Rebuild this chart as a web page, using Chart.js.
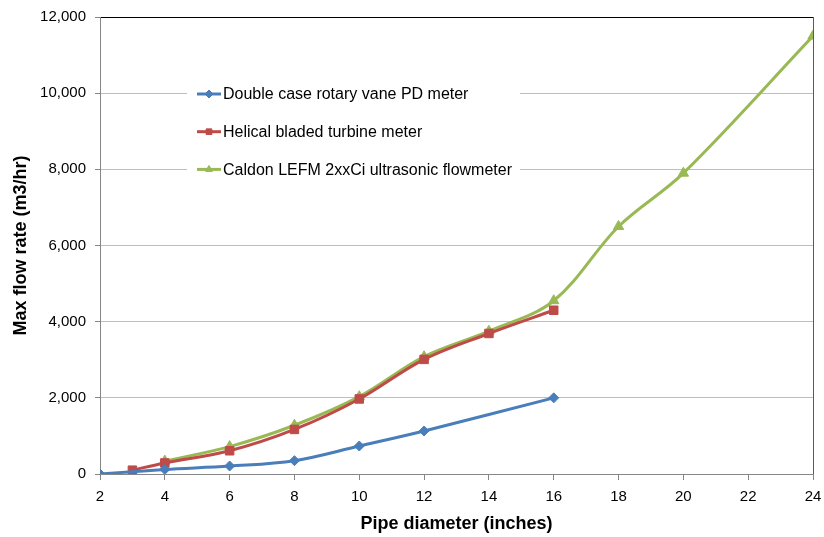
<!DOCTYPE html>
<html>
<head>
<meta charset="utf-8">
<script src="https://cdn.jsdelivr.net/npm/chart.js@4/dist/chart.umd.min.js"></script>
<style>
html,body{margin:0;padding:0;background:#fff;}
#wrap{width:824px;height:537px;position:relative;}
</style>
</head>
<body>
<div id="wrap"><canvas id="c" width="824" height="537"></canvas></div>
<script>
// Data
const seriesNames = [
  "Double case rotary vane PD meter",
  "Helical bladed turbine meter",
  "Caldon LEFM 2xxCi ultrasonic flowmeter"
];
const pdX = [2, 4, 6, 8, 10, 12, 16];
const pdY = [0, 120, 210, 350, 735, 1130, 2000];
const turbineX = [3, 4, 6, 8, 10, 12, 14, 16];
const turbineY = [100, 290, 610, 1170, 1970, 3010, 3690, 4300];
const ultraX = [4, 6, 8, 10, 12, 14, 16, 18, 20, 24];
const ultraY = [340, 720, 1280, 2030, 3080, 3750, 4550, 6500, 7900, 11500];
const xTicks = [2, 4, 6, 8, 10, 12, 14, 16, 18, 20, 22, 24];
const yTicks = [0, 2000, 4000, 6000, 8000, 10000, 12000];

const FONT = "'Liberation Sans', Arial, sans-serif";
const pts = (xs, ys) => xs.map((x, i) => ({x: x, y: ys[i]}));

const colors = ['#4A7EBB', '#BE4B48', '#98B954'];
const styles = ['rectRot', 'rect', 'triangle'];
const radii = [5, 6, 6];

const legendPlugin = {
  id: 'insideLegend',
  afterDatasetsDraw(chart) {
    const ctx = chart.ctx;
    ctx.save();
    ctx.fillStyle = '#fff';
    ctx.fillRect(187, 76, 333, 113);
    chart.data.datasets.forEach((ds, i) => {
      const y = 94 + i * 37.7;
      ctx.strokeStyle = ds.borderColor;
      ctx.lineWidth = 3;
      ctx.beginPath();
      ctx.moveTo(197, y);
      ctx.lineTo(221, y);
      ctx.stroke();
      ctx.fillStyle = ds.borderColor;
      ctx.strokeStyle = ds.borderColor;
      ctx.lineWidth = 1;
      Chart.helpers.drawPoint(ctx, {pointStyle: ds.pointStyle, radius: 4, rotation: 0, borderWidth: 1}, 209, y);
      ctx.fillStyle = '#000';
      ctx.font = '16px ' + FONT;
      ctx.textAlign = 'left';
      ctx.textBaseline = 'middle';
      ctx.fillText(ds.label, 223, y + 1);
    });
    ctx.restore();
  }
};

const datasets = [pts(pdX, pdY), pts(turbineX, turbineY), pts(ultraX, ultraY)].map((d, i) => ({
  label: seriesNames[i],
  data: d,
  borderColor: colors[i],
  backgroundColor: colors[i],
  borderWidth: 3,
  pointStyle: styles[i],
  pointRadius: radii[i],
  pointBorderWidth: 1,
  pointBorderColor: colors[i],
  pointBackgroundColor: colors[i],
  tension: 0.35,
  fill: false
}));

new Chart(document.getElementById('c'), {
  type: 'line',
  data: {datasets: datasets},
  plugins: [legendPlugin],
  options: {
    responsive: false,
    animation: false,
    events: [],
    layout: {padding: {top: 17, right: 11, left: 0, bottom: 0}},
    plugins: {legend: {display: false}, tooltip: {enabled: false}},
    scales: {
      x: {
        type: 'linear',
        min: 2, max: 24,
        afterBuildTicks: s => { s.ticks = xTicks.map(v => ({value: v})); },
        afterFit: s => { s.height = 63; s.paddingRight = 0; s.paddingLeft = 0; },
        ticks: {font: {size: 15, family: FONT}, color: '#000', padding: 8, maxRotation: 0},
        grid: {
          color: c => (c.tick && c.tick.value === 24) ? '#5a5a5a' : 'rgba(0,0,0,0)',
          tickColor: '#868686',
          tickLength: 6,
          lineWidth: 1
        },
        border: {color: '#868686', width: 1},
        title: {display: true, text: 'Pipe diameter (inches)', font: {size: 18, weight: 'bold', family: FONT}, color: '#000', padding: {top: 0, bottom: 2}}
      },
      y: {
        min: 0, max: 12000,
        afterBuildTicks: s => { s.ticks = yTicks.map(v => ({value: v})); },
        afterFit: s => { s.width = 100; s.paddingTop = 0; s.paddingBottom = 0; },
        ticks: {font: {size: 15, family: FONT}, color: '#000', padding: 9,
          callback: v => v.toLocaleString('en-US')},
        grid: {
          color: c => (c.tick && c.tick.value === 12000) ? '#000' : '#BEBEBE',
          tickColor: '#868686',
          tickLength: 5,
          lineWidth: 1
        },
        border: {color: '#868686', width: 1},
        title: {display: true, text: 'Max flow rate (m3/hr)', font: {size: 18, weight: 'bold', family: FONT}, color: '#000', padding: {top: 10, bottom: 0}}
      }
    }
  }
});
</script>
</body>
</html>
